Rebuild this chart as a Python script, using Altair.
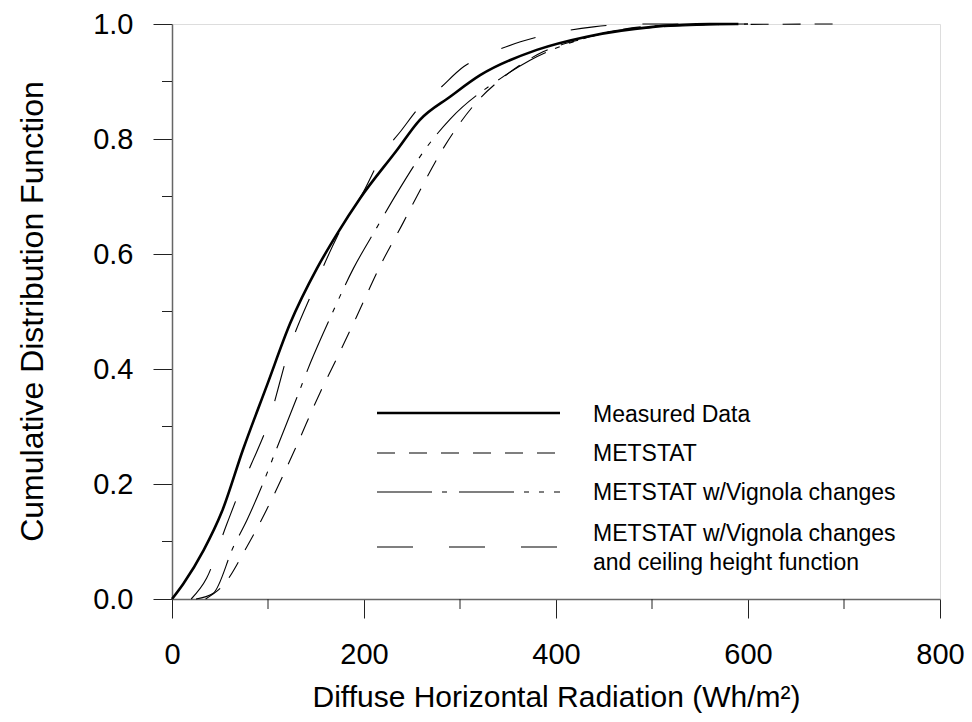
import altair as alt
import pandas as pd

# ---- data ----
measured_x = [0, 12, 33, 52, 74, 99, 123, 151, 172, 196, 234, 258, 290, 321, 380, 432, 501, 560, 590]
measured_y = [0, 0.027, 0.085, 0.152, 0.26, 0.372, 0.479, 0.575, 0.635, 0.697, 0.78, 0.833, 0.874, 0.911, 0.955, 0.978, 0.995, 1.0, 1.0]

metstat_x = [35, 55, 78, 93, 107, 128, 154, 175, 192, 217, 241, 255, 283, 321, 342, 387, 430, 467, 520, 690]
metstat_y = [0, 0.027, 0.091, 0.137, 0.184, 0.26, 0.358, 0.43, 0.49, 0.58, 0.655, 0.70, 0.785, 0.871, 0.903, 0.952, 0.975, 0.99, 0.998, 1.0]

vignola_x = [25, 43, 64, 78, 92, 111, 130, 144, 165, 189, 213, 234, 265, 290, 342, 373, 420, 470, 600]
vignola_y = [0, 0.01, 0.091, 0.137, 0.19, 0.27, 0.35, 0.41, 0.49, 0.575, 0.645, 0.705, 0.785, 0.835, 0.905, 0.937, 0.97, 0.99, 1.0]

ceiling_x = [20, 36, 57, 71, 83, 99, 123, 147, 172, 200, 220, 238, 258, 279, 304, 331, 363, 397, 439, 480, 600]
ceiling_y = [0, 0.036, 0.13, 0.19, 0.236, 0.30, 0.439, 0.537, 0.63, 0.71, 0.775, 0.813, 0.856, 0.888, 0.926, 0.949, 0.969, 0.984, 0.995, 1.0, 1.0]

x_ticks = [0, 200, 400, 600, 800]
x_minor = [100, 300, 500, 700]
y_ticks = [0.0, 0.2, 0.4, 0.6, 0.8, 1.0]
y_minor = [0.1, 0.3, 0.5, 0.7, 0.9]

legend_labels = ["Measured Data", "METSTAT", "METSTAT w/Vignola changes",
                 "METSTAT w/Vignola changes", "and ceiling height function"]

FONT = "Liberation Sans"
W, H = 768, 575

xscale = alt.Scale(domain=[0, 800], nice=False)
yscale = alt.Scale(domain=[0, 1], nice=False)

xaxis = alt.Axis(values=x_ticks, format="d", grid=False, tickSize=19, tickColor="#222",
                 domainColor="#666", domainWidth=1.5, labelFont=FONT, labelFontSize=29,
                 labelColor="black", labelPadding=22, labelFlush=False,
                 title="Diffuse Horizontal Radiation (Wh/m²)", titleFont=FONT,
                 titleFontSize=30, titleFontWeight="normal", titleColor="black",
                 titleX=384, titleY=107, titleAlign="center", titleBaseline="alphabetic")
yaxis = alt.Axis(values=y_ticks, format=".1f", grid=False, tickSize=19, tickColor="#222",
                 domainColor="#666", domainWidth=1.5, labelFont=FONT, labelFontSize=29,
                 labelColor="black", labelPadding=20, labelFlush=False,
                 title="Cumulative Distribution Function", titleFont=FONT,
                 titleFontSize=32, titleFontWeight="normal", titleColor="black",
                 titleX=-130, titleY=287, titleAngle=270, titleAlign="center",
                 titleBaseline="alphabetic")


def series(xs, ys):
    return pd.DataFrame({"x": xs, "y": ys})


def curve(xs, ys, width, dash=None):
    kw = dict(color="black", strokeWidth=width, interpolate="monotone")
    if dash:
        kw["strokeDash"] = dash
    return alt.Chart(series(xs, ys)).mark_line(**kw).encode(
        x=alt.X("x:Q", scale=xscale, axis=xaxis),
        y=alt.Y("y:Q", scale=yscale, axis=yaxis),
    )


DASH_MET = [18, 14]
DASH_VIG = [55, 10, 5, 12, 55, 10, 5, 10, 5, 10]
DASH_CEIL = [36, 36]

l_meas = curve(measured_x, measured_y, 2.6)
l_met = curve(metstat_x, metstat_y, 1.1, DASH_MET)
l_vig = curve(vignola_x, vignola_y, 1.1, DASH_VIG)
l_ceil = curve(ceiling_x, ceiling_y, 1.1, DASH_CEIL)

minor_x = alt.Chart(pd.DataFrame({"x": x_minor})).mark_rule(color="#222", strokeWidth=1).encode(
    x=alt.X("x:Q", scale=xscale), y=alt.value(H), y2=alt.value(H + 10))
minor_y = alt.Chart(pd.DataFrame({"y": y_minor})).mark_rule(color="#222", strokeWidth=1).encode(
    y=alt.Y("y:Q", scale=yscale), x=alt.value(-10), x2=alt.value(0))

one = pd.DataFrame({"a": [0]})
LX0, LX1, TX = 205, 388, 421
line_rows = [389, 429, 468, 523]
line_styles = [(2.6, None), (1.1, DASH_MET), (1.1, DASH_VIG), (1.1, DASH_CEIL)]
text_rows = [398, 437, 476, 517, 546]

legend_layers = []
for yy, (w, d) in zip(line_rows, line_styles):
    kw = dict(color="black", strokeWidth=w)
    if d:
        kw["strokeDash"] = d
    legend_layers.append(alt.Chart(one).mark_rule(**kw).encode(
        x=alt.value(LX0), x2=alt.value(LX1), y=alt.value(yy)))
for yy, lab in zip(text_rows, legend_labels):
    legend_layers.append(alt.Chart(one).mark_text(
        text=lab, font=FONT, fontSize=23, color="black", align="left",
        baseline="alphabetic").encode(x=alt.value(TX), y=alt.value(yy)))

chart = alt.layer(l_meas, l_met, l_vig, l_ceil, minor_x, minor_y, *legend_layers).properties(
    width=W, height=H,
    autosize=alt.AutoSizeParams(type="none"),
    padding={"left": 172, "top": 24, "right": 32, "bottom": 123},
).configure_view(stroke="black", strokeWidth=1.2).configure(background="white")

chart.save("out.html", embed_options={"renderer": "svg", "actions": False})
